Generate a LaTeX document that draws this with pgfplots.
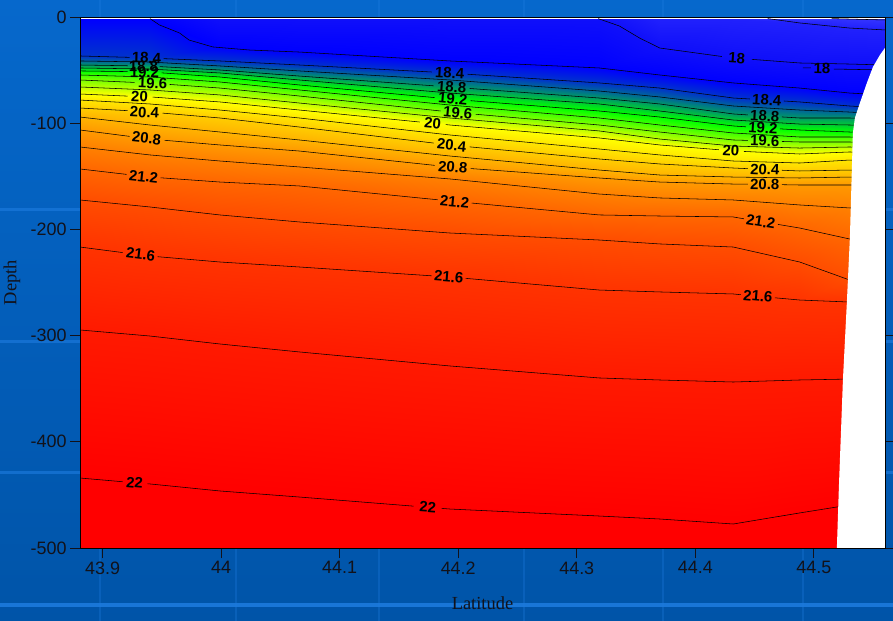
\documentclass[border=0pt]{standalone}
\usepackage{pgfplots}
\pgfplotsset{compat=1.18}
\usepackage{fontspec}
\setmainfont{Liberation Serif}
\newfontfamily\arialfont{Liberation Sans}
\definecolor{bgtop}{RGB}{6,104,204}
\definecolor{bgbot}{RGB}{0,84,168}
\definecolor{bgline}{RGB}{30,124,224}
\definecolor{ticktext}{RGB}{18,18,26}
\tikzset{lbl/.style={font=\arialfont\bfseries\fontsize{15}{15}\selectfont, inner sep=0pt, text=black, anchor=center}}

\begin{document}
\begin{tikzpicture}
\useasboundingbox (0bp,0bp) rectangle (893bp,621bp);
% slide background
\shade[top color=bgtop, bottom color=bgbot] (0bp,0bp) rectangle (893bp,621bp);
\foreach \yy in {411,279,148} \draw[bgline, line width=3bp, opacity=0.6] (0bp,\yy bp) -- (893bp,\yy bp);
\draw[bgline, line width=3.5bp, opacity=0.85] (0bp,16bp) -- (893bp,16bp);
\foreach \xx in {100,236,379,524,663,803} \draw[bgline, line width=2.5bp, opacity=0.3] (\xx bp,0bp) -- (\xx bp,621bp);

\begin{axis}[
  at={(80bp,73bp)}, anchor=south west,
  scale only axis, width=805bp, height=531bp,
  xmin=43.881, xmax=44.560, ymin=-500, ymax=0,
  axis background/.style={fill=white},
  axis on top,
  axis line style={black, line width=0.8pt},
  tick align=outside,
  major tick length=10bp,
  tick style={line width=0.8pt, color=ticktext},
  xtick={43.9,44,44.1,44.2,44.3,44.4,44.5},
  xticklabels={43.9,44,44.1,44.2,44.3,44.4,44.5},
  ytick={-500,-400,-300,-200,-100,0},
  yticklabels={-500,-400,-300,-200,-100,0},
  xtick pos=left, ytick pos=both, yticklabel pos=left,
  scaled ticks=false,
  tick label style={font=\arialfont\fontsize{18}{18}\selectfont, text=ticktext},
  xlabel={Latitude}, ylabel={Depth},
  every axis x label/.style={at={(axis description cs:0.5,-0.1036)},anchor=center,
    font=\fontsize{18.5}{18.5}\selectfont, text=ticktext},
  every axis y label/.style={at={(axis description cs:-0.0845,0.5)},anchor=center,rotate=90,
    font=\fontsize{18.5}{18.5}\selectfont, text=ticktext},
  colormap={tempmap}{rgb255(0cm)=(60,60,255); rgb255(5cm)=(15,15,250); rgb255(7cm)=(0,0,255); rgb255(17cm)=(0,255,0); rgb255(25cm)=(255,255,0); rgb255(45cm)=(255,0,0); rgb255(46cm)=(255,0,0)},
  point meta min=17.5, point meta max=22.1,
  unbounded coords=jump,
  no markers,
]
% temperature field: each row follows one isotherm across the section
\addplot[surf, shader=interp, mesh/cols=11, point meta=explicit] coordinates {
(43.881,-1.5)[17.5] (43.940,-1.5)[17.5] (43.999,-1.5)[17.5] (44.066,-1.5)[17.5] (44.193,-1.5)[17.5] (44.319,-1.5)[17.5] (44.370,-1.5)[17.5] (44.432,-1.5)[17.5] (44.488,-1.5)[17.5] (44.530,-1.5)[17.5] (44.560,-1.5)[17.5]
(43.881,-1.5)[17.6] (43.940,-1.5)[17.6] (43.999,-1.5)[17.6] (44.066,-1.5)[17.6] (44.193,-1.5)[17.6] (44.319,-1.5)[17.6] (44.370,-1.5)[17.6] (44.432,-1.5)[17.6] (44.488,-1.5)[17.6] (44.530,-1.5)[17.6] (44.560,-2.8)[17.6]
(43.881,-1.5)[17.8] (43.940,-1.5)[17.8] (43.999,-1.5)[17.8] (44.066,-1.5)[17.8] (44.193,-1.5)[17.8] (44.319,-1.5)[17.8] (44.370,-1.5)[17.8] (44.432,-1.5)[17.8] (44.488,-5.6)[17.8] (44.530,-10.4)[17.8] (44.560,-12.2)[17.8]
(43.881,-1.5)[18.0] (43.940,-1.5)[18.0] (43.999,-1.5)[18.0] (44.066,-1.5)[18.0] (44.193,-1.5)[18.0] (44.319,-1.5)[18.0] (44.370,-29.2)[18.0] (44.432,-38.6)[18.0] (44.488,-43.3)[18.0] (44.530,-44.3)[18.0] (44.560,-45.2)[18.0]
(43.881,-1.5)[18.2] (43.940,-1.5)[18.2] (43.999,-28.7)[18.2] (44.066,-33.0)[18.2] (44.193,-41.4)[18.2] (44.319,-48.0)[18.2] (44.370,-54.6)[18.2] (44.432,-62.1)[18.2] (44.488,-66.9)[18.2] (44.530,-71.6)[18.2] (44.560,-73.4)[18.2]
(43.881,-36.7)[18.4] (43.940,-38.6)[18.4] (43.999,-41.4)[18.4] (44.066,-45.2)[18.4] (44.193,-52.7)[18.4] (44.319,-62.1)[18.4] (44.370,-66.9)[18.4] (44.432,-76.3)[18.4] (44.488,-80.0)[18.4] (44.530,-83.8)[18.4] (44.560,-85.7)[18.4]
(43.881,-41.4)[18.6] (43.940,-42.4)[18.6] (43.999,-46.1)[18.6] (44.066,-50.8)[18.6] (44.193,-59.3)[18.6] (44.319,-69.7)[18.6] (44.370,-75.3)[18.6] (44.432,-83.8)[18.6] (44.488,-87.6)[18.6] (44.530,-89.5)[18.6] (44.560,-91.3)[18.6]
(43.881,-45.2)[18.8] (43.940,-46.1)[18.8] (43.999,-49.9)[18.8] (44.066,-55.6)[18.8] (44.193,-65.9)[18.8] (44.319,-76.3)[18.8] (44.370,-81.9)[18.8] (44.432,-91.3)[18.8] (44.488,-95.1)[18.8] (44.530,-95.1)[18.8] (44.560,-96.0)[18.8]
(43.881,-48.0)[19.0] (43.940,-49.0)[19.0] (43.999,-52.7)[19.0] (44.066,-59.3)[19.0] (44.193,-71.6)[19.0] (44.319,-81.9)[19.0] (44.370,-88.5)[19.0] (44.432,-97.0)[19.0] (44.488,-100.8)[19.0] (44.530,-101.7)[19.0] (44.560,-102.6)[19.0]
(43.881,-50.8)[19.2] (43.940,-51.8)[19.2] (43.999,-56.5)[19.2] (44.066,-64.0)[19.2] (44.193,-77.2)[19.2] (44.319,-88.5)[19.2] (44.370,-94.2)[19.2] (44.432,-102.6)[19.2] (44.488,-106.4)[19.2] (44.530,-108.3)[19.2] (44.560,-109.2)[19.2]
(43.881,-54.6)[19.4] (43.940,-56.5)[19.4] (43.999,-61.2)[19.4] (44.066,-68.7)[19.4] (44.193,-82.9)[19.4] (44.319,-95.1)[19.4] (44.370,-101.7)[19.4] (44.432,-109.2)[19.4] (44.488,-113.0)[19.4] (44.530,-113.0)[19.4] (44.560,-113.9)[19.4]
(43.881,-59.3)[19.6] (43.940,-62.1)[19.6] (43.999,-66.9)[19.6] (44.066,-74.4)[19.6] (44.193,-89.5)[19.6] (44.319,-101.7)[19.6] (44.370,-108.3)[19.6] (44.432,-115.8)[19.6] (44.488,-117.7)[19.6] (44.530,-117.7)[19.6] (44.560,-118.6)[19.6]
(43.881,-65.9)[19.8] (43.940,-68.7)[19.8] (43.999,-73.4)[19.8] (44.066,-81.0)[19.8] (44.193,-95.1)[19.8] (44.319,-107.3)[19.8] (44.370,-114.9)[19.8] (44.432,-121.5)[19.8] (44.488,-123.4)[19.8] (44.530,-122.4)[19.8] (44.560,-123.4)[19.8]
(43.881,-72.5)[20.0] (43.940,-75.3)[20.0] (43.999,-80.0)[20.0] (44.066,-87.6)[20.0] (44.193,-101.7)[20.0] (44.319,-113.9)[20.0] (44.370,-120.5)[20.0] (44.432,-126.2)[20.0] (44.488,-129.0)[20.0] (44.530,-127.1)[20.0] (44.560,-128.1)[20.0]
(43.881,-78.2)[20.2] (43.940,-81.9)[20.2] (43.999,-87.6)[20.2] (44.066,-95.1)[20.2] (44.193,-111.1)[20.2] (44.319,-124.3)[20.2] (44.370,-129.9)[20.2] (44.432,-135.6)[20.2] (44.488,-137.5)[20.2] (44.530,-134.7)[20.2] (44.560,-135.6)[20.2]
(43.881,-85.7)[20.4] (43.940,-89.5)[20.4] (43.999,-95.1)[20.4] (44.066,-103.6)[20.4] (44.193,-120.5)[20.4] (44.319,-133.7)[20.4] (44.370,-138.4)[20.4] (44.432,-142.2)[20.4] (44.488,-145.0)[20.4] (44.530,-144.1)[20.4] (44.560,-144.1)[20.4]
(43.881,-94.2)[20.6] (43.940,-101.7)[20.6] (43.999,-108.3)[20.6] (44.066,-115.8)[20.6] (44.193,-130.9)[20.6] (44.319,-144.1)[20.6] (44.370,-148.8)[20.6] (44.432,-150.7)[20.6] (44.488,-151.6)[20.6] (44.530,-150.7)[20.6] (44.560,-150.7)[20.6]
(43.881,-106.4)[20.8] (43.940,-114.9)[20.8] (43.999,-120.5)[20.8] (44.066,-126.2)[20.8] (44.193,-141.2)[20.8] (44.319,-151.6)[20.8] (44.370,-155.4)[20.8] (44.432,-157.3)[20.8] (44.488,-158.2)[20.8] (44.530,-158.2)[20.8] (44.560,-158.2)[20.8]
(43.881,-122.4)[21.0] (43.940,-129.9)[21.0] (43.999,-135.6)[21.0] (44.066,-141.2)[21.0] (44.193,-152.5)[21.0] (44.319,-166.7)[21.0] (44.370,-170.4)[21.0] (44.432,-172.3)[21.0] (44.488,-177.0)[21.0] (44.530,-179.8)[21.0] (44.560,-181.7)[21.0]
(43.881,-143.1)[21.2] (43.940,-150.7)[21.2] (43.999,-155.4)[21.2] (44.066,-159.1)[21.2] (44.193,-173.3)[21.2] (44.319,-186.4)[21.2] (44.370,-187.4)[21.2] (44.432,-188.3)[21.2] (44.488,-198.7)[21.2] (44.530,-209.0)[21.2] (44.560,-214.7)[21.2]
(43.881,-172.3)[21.4] (43.940,-178.9)[21.4] (43.999,-186.4)[21.4] (44.066,-193.0)[21.4] (44.193,-203.4)[21.4] (44.319,-210.0)[21.4] (44.370,-213.7)[21.4] (44.432,-216.6)[21.4] (44.488,-230.7)[21.4] (44.530,-247.6)[21.4] (44.560,-257.1)[21.4]
(43.881,-216.6)[21.6] (43.940,-225.0)[21.6] (43.999,-230.7)[21.6] (44.066,-235.4)[21.6] (44.193,-244.8)[21.6] (44.319,-257.1)[21.6] (44.370,-258.9)[21.6] (44.432,-260.8)[21.6] (44.488,-266.5)[21.6] (44.530,-268.4)[21.6] (44.560,-269.3)[21.6]
(43.881,-294.7)[21.8] (43.940,-300.4)[21.8] (43.999,-307.9)[21.8] (44.066,-315.4)[21.8] (44.193,-328.6)[21.8] (44.319,-339.9)[21.8] (44.370,-341.8)[21.8] (44.432,-343.7)[21.8] (44.488,-341.8)[21.8] (44.530,-340.9)[21.8] (44.560,-340.9)[21.8]
(43.881,-434.1)[22.0] (43.940,-439.7)[22.0] (43.999,-446.3)[22.0] (44.066,-452.0)[22.0] (44.193,-463.3)[22.0] (44.319,-469.9)[22.0] (44.370,-472.7)[22.0] (44.432,-477.4)[22.0] (44.488,-467.0)[22.0] (44.530,-459.5)[22.0] (44.560,-454.8)[22.0]
(43.881,-500)[22.1] (43.940,-500)[22.1] (43.999,-500)[22.1] (44.066,-500)[22.1] (44.193,-500)[22.1] (44.319,-500)[22.1] (44.370,-500)[22.1] (44.432,-500)[22.1] (44.488,-500)[22.1] (44.530,-500)[22.1] (44.560,-500)[22.1]
};

% isotherms (gaps leave room for the labels)
\pgfplotsset{iso/.style={black, line width=0.55pt}}
\addplot[iso] coordinates {(44.515,-1.5) (44.560,-2.8)};
\addplot[iso] coordinates {(44.461,-1.5) (44.488,-5.6) (44.530,-10.4) (44.560,-12.2)};
\addplot[iso] coordinates {(44.318,-1.5) (44.336,-8.5) (44.353,-19.8) (44.370,-29.2) (44.4224,-37.2) (44.43,nan) (44.4477,-39.9) (44.488,-43.3) (44.530,-44.3) (44.560,-45.2)};
\addplot[iso] coordinates {(44.4907,-48.0) (44.4975,-48.0) (44.50,nan) (44.5169,-49.0) (44.560,-49.9)};
\addplot[iso] coordinates {(43.940,-1.5) (43.948,-7.5) (43.965,-15.1) (43.973,-21.7) (43.993,-28.2) (44.024,-31.1) (44.066,-33.0) (44.193,-41.4) (44.319,-48.0) (44.370,-54.6) (44.432,-62.1) (44.488,-66.9) (44.530,-71.6) (44.560,-73.4)};
\addplot[iso] coordinates {(43.881,-36.7) (43.9228,-38.0) (43.93,nan) (43.9515,-39.2) (43.999,-41.4) (44.066,-45.2) (44.1776,-51.8) (44.19,nan) (44.2080,-53.9) (44.319,-62.1) (44.370,-66.9) (44.432,-76.3) (44.4460,-77.2) (44.46,nan) (44.4747,-79.1) (44.488,-80.0) (44.530,-83.8) (44.560,-85.7)};
\addplot[iso] coordinates {(43.881,-41.4) (43.940,-42.4) (43.999,-46.1) (44.066,-50.8) (44.193,-59.3) (44.319,-69.7) (44.370,-75.3) (44.432,-83.8) (44.488,-87.6) (44.530,-89.5) (44.560,-91.3)};
\addplot[iso] coordinates {(43.881,-45.2) (43.9211,-45.9) (43.93,nan) (43.9481,-46.7) (43.999,-49.9) (44.066,-55.6) (44.1793,-64.8) (44.19,nan) (44.2097,-67.3) (44.319,-76.3) (44.370,-81.9) (44.432,-91.3) (44.4443,-92.2) (44.46,nan) (44.4730,-94.1) (44.488,-95.1) (44.530,-95.1) (44.560,-96.0)};
\addplot[iso] coordinates {(43.881,-48.0) (43.940,-49.0) (43.999,-52.7) (44.066,-59.3) (44.193,-71.6) (44.319,-81.9) (44.370,-88.5) (44.432,-97.0) (44.488,-100.8) (44.530,-101.7) (44.560,-102.6)};
\addplot[iso] coordinates {(43.881,-50.8) (43.9211,-51.4) (43.93,nan) (43.9498,-52.6) (43.999,-56.5) (44.066,-64.0) (44.1802,-75.9) (44.19,nan) (44.2105,-78.8) (44.319,-88.5) (44.370,-94.2) (44.432,-102.6) (44.4426,-103.4) (44.46,nan) (44.4713,-105.3) (44.488,-106.4) (44.530,-108.3) (44.560,-109.2)};
\addplot[iso] coordinates {(43.881,-54.6) (43.940,-56.5) (43.999,-61.2) (44.066,-68.7) (44.193,-82.9) (44.319,-95.1) (44.370,-101.7) (44.432,-109.2) (44.488,-113.0) (44.530,-113.0) (44.560,-113.9)};
\addplot[iso] coordinates {(43.881,-59.3) (43.9270,-61.6) (43.94,nan) (43.9565,-63.5) (43.999,-66.9) (44.066,-74.4) (44.1852,-88.5) (44.20,nan) (44.2148,-91.6) (44.319,-101.7) (44.370,-108.3) (44.432,-115.8) (44.4443,-116.2) (44.46,nan) (44.4730,-117.2) (44.488,-117.7) (44.530,-117.7) (44.560,-118.6)};
\addplot[iso] coordinates {(43.881,-65.9) (43.940,-68.7) (43.999,-73.4) (44.066,-81.0) (44.193,-95.1) (44.319,-107.3) (44.370,-114.9) (44.432,-121.5) (44.488,-123.4) (44.530,-122.4) (44.560,-123.4)};
\addplot[iso] coordinates {(43.881,-72.5) (43.9211,-74.5) (43.93,nan) (43.9422,-75.4) (43.999,-80.0) (44.066,-87.6) (44.1675,-98.9) (44.18,nan) (44.1895,-101.3) (44.193,-101.7) (44.319,-113.9) (44.370,-120.5) (44.4198,-125.0) (44.43,nan) (44.4409,-126.6) (44.488,-129.0) (44.530,-127.1) (44.560,-128.1)};
\addplot[iso] coordinates {(43.881,-78.2) (43.940,-81.9) (43.999,-87.6) (44.066,-95.1) (44.193,-111.1) (44.319,-124.3) (44.370,-129.9) (44.432,-135.6) (44.488,-137.5) (44.530,-134.7) (44.560,-135.6)};
\addplot[iso] coordinates {(43.881,-85.7) (43.9211,-88.2) (43.93,nan) (43.9506,-90.5) (43.999,-95.1) (44.066,-103.6) (44.1793,-118.7) (44.19,nan) (44.2097,-122.3) (44.319,-133.7) (44.370,-138.4) (44.432,-142.2) (44.4443,-142.8) (44.46,nan) (44.4730,-144.3) (44.488,-145.0) (44.530,-144.1) (44.560,-144.1)};
\addplot[iso] coordinates {(43.881,-94.2) (43.940,-101.7) (43.999,-108.3) (44.066,-115.8) (44.193,-130.9) (44.319,-144.1) (44.370,-148.8) (44.432,-150.7) (44.488,-151.6) (44.530,-150.7) (44.560,-150.7)};
\addplot[iso] coordinates {(43.881,-106.4) (43.9228,-112.4) (43.93,nan) (43.9523,-116.1) (43.999,-120.5) (44.066,-126.2) (44.1802,-139.7) (44.19,nan) (44.2105,-142.7) (44.319,-151.6) (44.370,-155.4) (44.432,-157.3) (44.4443,-157.4) (44.46,nan) (44.4730,-157.9) (44.488,-158.2) (44.530,-158.2) (44.560,-158.2)};
\addplot[iso] coordinates {(43.881,-122.4) (43.940,-129.9) (43.999,-135.6) (44.066,-141.2) (44.193,-152.5) (44.319,-166.7) (44.370,-170.4) (44.432,-172.3) (44.488,-177.0) (44.530,-179.8) (44.560,-181.7)};
\addplot[iso] coordinates {(43.881,-143.1) (43.9203,-148.2) (43.93,nan) (43.9489,-151.4) (43.999,-155.4) (44.066,-159.1) (44.1827,-172.1) (44.19,nan) (44.2114,-175.2) (44.319,-186.4) (44.370,-187.4) (44.432,-188.3) (44.4409,-190.0) (44.45,nan) (44.4696,-195.3) (44.488,-198.7) (44.530,-209.0) (44.560,-214.7)};
\addplot[iso] coordinates {(43.881,-172.3) (43.940,-178.9) (43.999,-186.4) (44.066,-193.0) (44.193,-203.4) (44.319,-210.0) (44.370,-213.7) (44.432,-216.6) (44.488,-230.7) (44.530,-247.6) (44.560,-257.1)};
\addplot[iso] coordinates {(43.881,-216.6) (43.9169,-221.8) (43.93,nan) (43.9464,-225.7) (43.999,-230.7) (44.066,-235.4) (44.1776,-243.7) (44.19,nan) (44.2063,-246.1) (44.319,-257.1) (44.370,-258.9) (44.432,-260.8) (44.4384,-261.5) (44.45,nan) (44.4671,-264.4) (44.488,-266.5) (44.530,-268.4) (44.560,-269.3)};
\addplot[iso] coordinates {(43.881,-294.7) (43.940,-300.4) (43.999,-307.9) (44.066,-315.4) (44.193,-328.6) (44.319,-339.9) (44.370,-341.8) (44.432,-343.7) (44.488,-341.8) (44.530,-340.9) (44.560,-340.9)};
\addplot[iso] coordinates {(43.881,-434.1) (43.9169,-437.6) (43.93,nan) (43.9380,-439.5) (43.940,-439.7) (43.999,-446.3) (44.066,-452.0) (44.1624,-460.6) (44.17,nan) (44.1861,-462.7) (44.193,-463.3) (44.319,-469.9) (44.370,-472.7) (44.432,-477.4) (44.488,-467.0) (44.530,-459.5) (44.560,-454.8)};

% sea floor / slope
\addplot[fill=white, draw=none] coordinates {(44.5599,-29.2) (44.5557,-35.8) (44.5498,-47.1) (44.5447,-62.1) (44.5388,-81.0) (44.5346,-95.1) (44.5329,-109.2) (44.5321,-141.2) (44.5304,-207.2) (44.5278,-269.3) (44.5245,-341.8) (44.5211,-442.6) (44.5194,-500) (44.560,-500)} -- cycle;

% isotherm labels
\node[lbl, rotate=-1.6] at (axis cs:43.9371,-38.6) {18.4};
\node[lbl, rotate=-1] at (axis cs:43.9346,-46.3) {18.8};
\node[lbl, rotate=-1] at (axis cs:43.9354,-52.1) {19.2};
\node[lbl, rotate=-2.5] at (axis cs:43.9422,-62.3) {19.6};
\node[lbl, rotate=-2.5] at (axis cs:43.9312,-75.0) {20};
\node[lbl, rotate=-3.3] at (axis cs:43.9354,-89.7) {20.4};
\node[lbl, rotate=-6] at (axis cs:43.9371,-114.3) {20.8};
\node[lbl, rotate=-6] at (axis cs:43.9346,-150.2) {21.2};
\node[lbl, rotate=-7] at (axis cs:43.9321,-223.6) {21.6};
\node[lbl, rotate=-5] at (axis cs:43.9270,-438.6) {22};
\node[lbl, rotate=-3] at (axis cs:44.1928,-52.7) {18.4};
\node[lbl, rotate=-4] at (axis cs:44.1945,-66.0) {18.8};
\node[lbl, rotate=-5] at (axis cs:44.1954,-77.3) {19.2};
\node[lbl, rotate=-5.5] at (axis cs:44.1996,-90.1) {19.6};
\node[lbl, rotate=-5.5] at (axis cs:44.1785,-100.1) {20};
\node[lbl, rotate=-6] at (axis cs:44.1945,-120.8) {20.4};
\node[lbl, rotate=-5] at (axis cs:44.1954,-141.4) {20.8};
\node[lbl, rotate=-5.5] at (axis cs:44.1970,-173.9) {21.2};
\node[lbl, rotate=-4.5] at (axis cs:44.1920,-244.8) {21.6};
\node[lbl, rotate=-4] at (axis cs:44.1743,-461.7) {22};
\node[lbl, rotate=-4] at (axis cs:44.4350,-38.9) {18};
\node[lbl, rotate=-1] at (axis cs:44.5068,-48.7) {18};
\node[lbl, rotate=-3.4] at (axis cs:44.4603,-78.2) {18.4};
\node[lbl, rotate=-3.4] at (axis cs:44.4586,-93.2) {18.8};
\node[lbl, rotate=-3.4] at (axis cs:44.4570,-104.3) {19.2};
\node[lbl, rotate=-1.7] at (axis cs:44.4586,-116.7) {19.6};
\node[lbl, rotate=-3] at (axis cs:44.4300,-125.8) {20};
\node[lbl, rotate=-2.5] at (axis cs:44.4586,-143.6) {20.4};
\node[lbl, rotate=-1] at (axis cs:44.4586,-157.7) {20.8};
\node[lbl, rotate=-9] at (axis cs:44.4553,-192.7) {21.2};
\node[lbl, rotate=-5] at (axis cs:44.4528,-263.0) {21.6};
\end{axis}
\end{tikzpicture}
\end{document}
